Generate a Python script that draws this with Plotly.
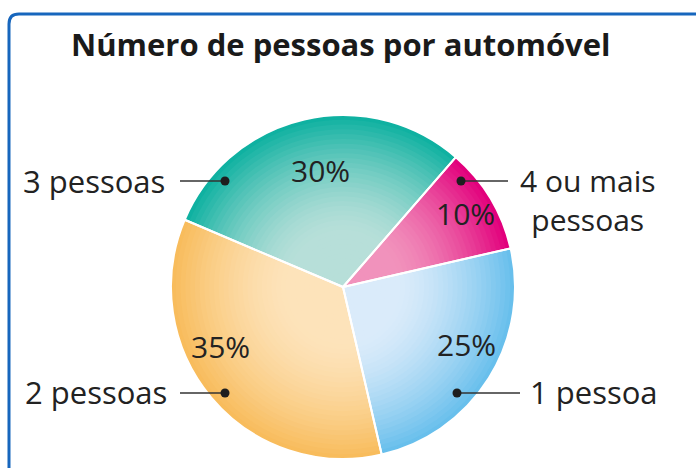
import math
import plotly.graph_objects as go

# ---- data ----
categories = ["4 ou mais pessoas", "1 pessoa", "2 pessoas", "3 pessoas"]
values = [10, 25, 35, 30]
title_text = "Número de pessoas por automóvel"

# ---- style ----
edge_colors = ["#E2007C", "#68BFEC", "#F8BC5C", "#0FB1A1"]
center_colors = ["#F192BC", "#DAEBFA", "#FDE3BA", "#B7DFD9"]
text_color = "#222222"
FONT = "Open Sans"

W, H = 696, 468
CX, CY, R = 343, 287, 172
ROT = 41
# per-label placement tweaks for the percentage texts (radius fraction, angle offset deg)
pct_place = [(0.83, 0), (0.79, -7), (0.79, 14), (0.69, 2)]


def X(p):
    return p / W


def Y(p):
    return 1 - p / H


def hex2rgb(h):
    h = h.lstrip("#")
    return tuple(int(h[i:i + 2], 16) for i in (0, 2, 4))


def mix(c1, c2, f):
    a, b = hex2rgb(c1), hex2rgb(c2)
    return "rgb(%d,%d,%d)" % tuple(round(a[i] + (b[i] - a[i]) * f) for i in range(3))


def dom(t):
    r = R * t
    return dict(x=[X(CX - r), X(CX + r)], y=[Y(CY + r), Y(CY - r)])


fig = go.Figure()

# gradient layers: stacked pies, largest first
N = 36
for k in range(N):
    t = 1 - k / N
    f = max(0.0, min(1.0, (t - 0.33) / 0.67)) ** 1.5
    cols = [mix(c0, c1, f) for c0, c1 in zip(center_colors, edge_colors)]
    fig.add_trace(go.Pie(
        labels=categories, values=values, sort=False, direction="clockwise",
        rotation=ROT, domain=dom(t), marker=dict(colors=cols, line=dict(width=0)),
        textinfo="none", hoverinfo="skip", showlegend=False,
    ))

# white separators
fig.add_trace(go.Pie(
    labels=categories, values=values, sort=False, direction="clockwise",
    rotation=ROT, domain=dom(1),
    marker=dict(colors=["rgba(0,0,0,0)"] * len(values), line=dict(width=2, color="white")),
    textinfo="none", hoverinfo="label+value", showlegend=False,
))

shapes = []
annotations = []

# percentage labels placed from the slice angles
total = sum(values)
start = ROT
for v, (rf, dth) in zip(values, pct_place):
    span = 360 * v / total
    mid = math.radians(start + span / 2 + dth)
    start += span
    px = CX + rf * R * math.sin(mid)
    py = CY - rf * R * math.cos(mid)
    annotations.append(dict(
        text="%d%%" % v, x=X(px), y=Y(py), xref="paper", yref="paper",
        xanchor="center", yanchor="middle", showarrow=False,
        font=dict(family=FONT, size=30, color=text_color),
    ))

# outer frame with rounded top-left corner
bx, by, br = 9, 14, 10
shapes.append(dict(
    type="path", xref="paper", yref="paper",
    path="M %f,%f L %f,%f Q %f,%f %f,%f L %f,%f" % (
        X(bx), Y(H + 20), X(bx), Y(by + br), X(bx), Y(by), X(bx + br), Y(by),
        X(W + 20), Y(by)),
    line=dict(color="#1766BD", width=3),
))

# leader lines with dots: (label, text x, text y, anchor, size, line x0, line x1, dot x, dot y)
leaders = [
    ("3 pessoas", 167, 181, "right", 31, 180, 225, 225, 181),
    ("2 pessoas", 169, 392, "right", 31, 180, 225, 225, 393),
    ("4 ou mais<br>pessoas", 588, 200, "center", 30, 461, 508, 461, 181),
    ("1 pessoa", 528, 392, "left", 31, 457, 520, 457, 393),
]
for lab, tx, ty, anc, fs, x0, x1, dx, dy in leaders:
    annotations.append(dict(
        text=lab, x=X(tx), y=Y(ty), xref="paper", yref="paper",
        xanchor=anc, yanchor="middle", align="center", showarrow=False,
        font=dict(family=FONT, size=fs, color=text_color),
    ))
    shapes.append(dict(type="line", xref="paper", yref="paper",
                       x0=X(x0), x1=X(x1), y0=Y(dy), y1=Y(dy),
                       line=dict(color="#333333", width=1.5)))
    shapes.append(dict(type="circle", xref="paper", yref="paper",
                       x0=X(dx - 4.5), x1=X(dx + 4.5), y0=Y(dy + 4.5), y1=Y(dy - 4.5),
                       fillcolor="#1E1E1E", line=dict(width=0)))

fig.update_layout(
    width=W, height=H,
    margin=dict(l=0, r=0, t=0, b=0),
    paper_bgcolor="white", plot_bgcolor="white",
    title=dict(text=title_text, x=X(71), xanchor="left", y=Y(45), yanchor="middle",
               font=dict(family=FONT, size=31, color="#1A1A1A", weight=700)),
    shapes=shapes, annotations=annotations,
)

fig.write_html("out.html", config={"displayModeBar": False},
               post_script="document.body.style.margin='0px';")
